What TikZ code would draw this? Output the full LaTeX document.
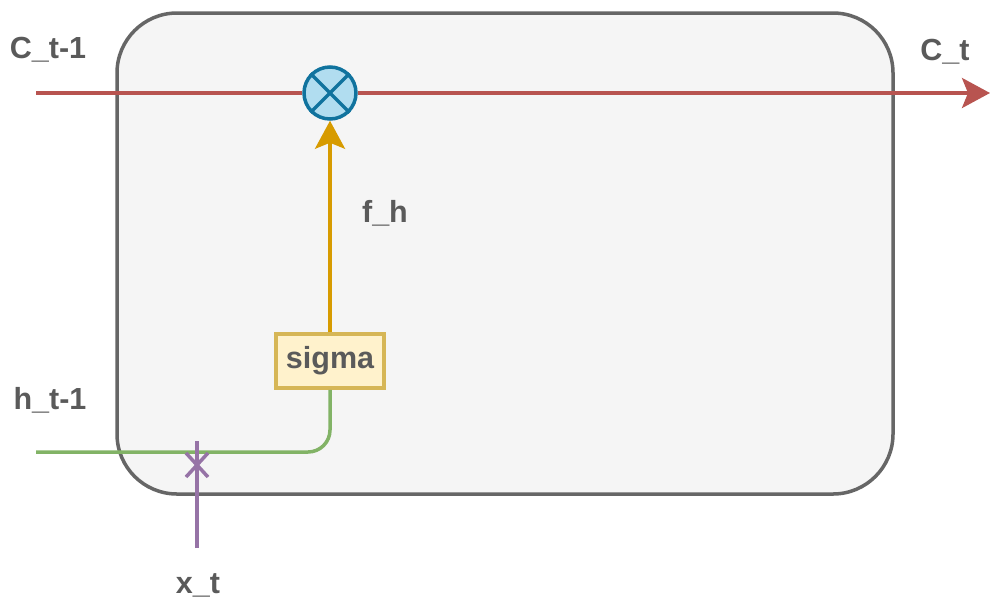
\documentclass[tikz,border=0pt]{standalone}
\usepackage{fontspec}
\setmainfont{Liberation Sans}
\usetikzlibrary{arrows.meta,calc}
\definecolor{cellred}{HTML}{B85450}
\definecolor{cellorange}{HTML}{D79B00}
\definecolor{cellgreen}{HTML}{82B366}
\definecolor{cellpurple}{HTML}{9673A6}
\definecolor{cellblue}{HTML}{10739E}
\definecolor{cellbluefill}{HTML}{B1DDF0}
\definecolor{cellyel}{HTML}{D6B656}
\definecolor{cellyelfill}{HTML}{FFF2CC}
\definecolor{boxgray}{HTML}{666666}
\definecolor{boxfill}{HTML}{F5F5F5}
\definecolor{txt}{HTML}{5A5A5A}
\tikzset{
  lbl/.style={text=txt,font=\fontsize{30.5}{36}\selectfont\bfseries,inner sep=0pt},
  conn/.style={line width=3.5pt},
  bigtip/.style={-{Stealth[length=28pt,width=30pt,inset=6pt]}},
}
\begin{document}
\begin{tikzpicture}[x=1pt,y=-1pt]
\useasboundingbox (0,0) rectangle (992,606);
% cell
\draw[draw=boxgray,fill=boxfill,line width=3.5pt,rounded corners=60pt] (117,13) rectangle (893,494);
% nodes
\node[circle,draw=cellblue,fill=cellbluefill,line width=3.5pt,minimum size=52pt,inner sep=0pt] (mul) at (330,93) {};
\draw[cellblue,line width=3.5pt] (mul.north west) -- (mul.south east) (mul.north east) -- (mul.south west);
\node[draw=cellyel,fill=cellyelfill,line width=3.5pt,minimum width=108pt,minimum height=54pt,inner sep=0pt,lbl] (sig) at (330,361) {sigma};
\coordinate (cin) at (36,93);
\coordinate (cout) at (990,93);
\coordinate (hin) at (36,452);
\coordinate (xin) at (197,548);
\coordinate (xend) at (197,441);
\coordinate (xc) at (197,465);
% connectors
\draw[conn,cellred] (cin) -- (mul.west);
\draw[conn,cellred,bigtip] (mul.east) -- (cout);
\draw[conn,cellorange,bigtip] (sig.north) -- (mul.south);
\draw[conn,cellgreen,rounded corners=22pt] (hin) -| (sig.south);
\draw[conn,cellpurple] (xin) -- (xend);
\draw[conn,cellpurple] ($(xc)+(-11,-12)$) -- ($(xc)+(11,12)$) ($(xc)+(-11,12)$) -- ($(xc)+(11,-12)$);
% labels
\node[lbl] (lc1) at (48,50) {C\_t-1};
\node[lbl] (lc2) at (945,52) {C\_t};
\node[lbl] (lfh) at (385,213) {f\_h};
\node[lbl] (lh) at (50,400) {h\_t-1};
\node[lbl] (lx) at (198,585) {x\_t};
\end{tikzpicture}
\end{document}
